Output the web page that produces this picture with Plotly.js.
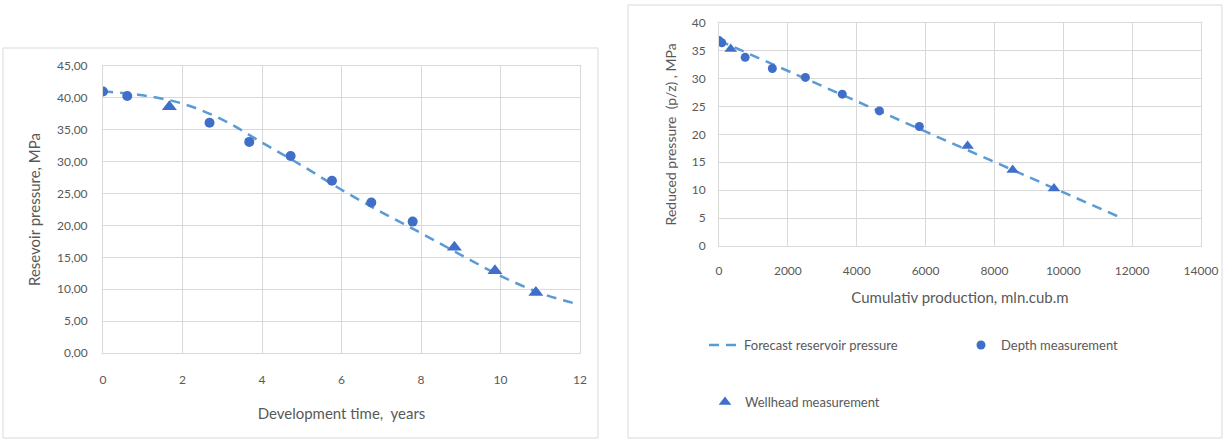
<!DOCTYPE html>
<html>
<head>
<meta charset="utf-8">
<script src="https://cdn.plot.ly/plotly-3.0.1.min.js"></script>
<style>html,body{margin:0;padding:0;background:#fff;}#chart{width:1224px;height:441px;}</style>
</head>
<body>
<div id="chart"></div>
<script>
// ---- Left chart: reservoir pressure vs development time ----
const forecastTime = [0, 1, 2, 3, 4, 5, 6, 7, 8, 9, 10, 11, 11.85];
const forecastPressure = [41.0, 40.4, 39.1, 36.6, 33.0, 29.4, 25.6, 22.1, 18.8, 15.4, 12.1, 9.4, 7.8];
const depthTime = [0, 0.61, 2.68, 3.68, 4.72, 5.76, 6.75, 7.79];
const depthPressure = [41.0, 40.3, 36.1, 33.1, 30.9, 27.0, 23.6, 20.6];
const wellTime = [1.67, 8.84, 9.86, 10.89];
const wellPressure = [38.6, 16.6, 12.9, 9.5];
const leftYTickVals = [0, 5, 10, 15, 20, 25, 30, 35, 40, 45];
const leftYTickText = ["0,00", "5,00", "10,00", "15,00", "20,00", "25,00", "30,00", "35,00", "40,00", "45,00"];
const leftXTickVals = [0, 2, 4, 6, 8, 10, 12];
const leftXTickText = ["0", "2", "4", "6", "8", "10", "12"];

// ---- Right chart: reduced pressure vs cumulative production ----
const forecastProd = [0, 11700];
const forecastReduced = [36.8, 5.0];
const depthProd = [0, 80, 760, 1550, 2510, 3580, 4660, 5820];
const depthReduced = [36.8, 36.4, 33.8, 31.8, 30.2, 27.2, 24.2, 21.4];
const wellProd = [340, 7220, 8530, 9730];
const wellReduced = [35.3, 17.9, 13.6, 10.3];
const rightYTickVals = [0, 5, 10, 15, 20, 25, 30, 35, 40];
const rightYTickText = ["0", "5", "10", "15", "20", "25", "30", "35", "40"];
const rightXTickVals = [0, 2000, 4000, 6000, 8000, 10000, 12000, 14000];
const rightXTickText = ["0", "2000", "4000", "6000", "8000", "10000", "12000", "14000"];

const legendNames = ["Forecast reservoir pressure", "Depth measurement", "Wellhead measurement"];

const W = 1224, H = 441;
const px = v => v / W;
const py = v => 1 - v / H;

const markerBlue = '#3F6FC8';
const lineBlue = '#5B9BD5';
const textGray = '#595959';
const gridGray = '#D9D9D9';
const font = 'Lato, "Open Sans", sans-serif';

const traces = [
  {x: forecastTime, y: forecastPressure, xaxis: 'x', yaxis: 'y', mode: 'lines', name: legendNames[0],
   line: {color: lineBlue, width: 2.5, dash: '10px,7px', shape: 'spline', smoothing: 1}, showlegend: false},
  {x: depthTime, y: depthPressure, xaxis: 'x', yaxis: 'y', mode: 'markers', name: legendNames[1],
   marker: {color: markerBlue, size: 10, symbol: 'circle'}, showlegend: false},
  {x: wellTime, y: wellPressure, xaxis: 'x', yaxis: 'y', mode: 'markers', name: legendNames[2],
   marker: {color: markerBlue, size: 13, symbol: 'triangle-up'}, showlegend: false},
  {x: forecastProd, y: forecastReduced, xaxis: 'x2', yaxis: 'y2', mode: 'lines', name: legendNames[0],
   line: {color: lineBlue, width: 2.5, dash: '10px,7px'}, legend: 'legend'},
  {x: depthProd, y: depthReduced, xaxis: 'x2', yaxis: 'y2', mode: 'markers', name: legendNames[1],
   marker: {color: markerBlue, size: 9, symbol: 'circle'}, legend: 'legend2'},
  {x: wellProd, y: wellReduced, xaxis: 'x2', yaxis: 'y2', mode: 'markers', name: legendNames[2],
   marker: {color: markerBlue, size: 11, symbol: 'triangle-up'}, legend: 'legend3'}
];

const axisCommon = {
  showgrid: true, gridcolor: gridGray, gridwidth: 1, zeroline: false,
  showline: true, linecolor: gridGray, mirror: true,
  ticks: 'outside', tickcolor: 'rgba(0,0,0,0)',
  tickfont: {family: font, size: 12, color: textGray},
  tickmode: 'array', fixedrange: true
};

const legendCommon = {
  orientation: 'h', bgcolor: 'rgba(0,0,0,0)', borderwidth: 0,
  font: {family: font, size: 13, color: textGray},
  xanchor: 'left', yanchor: 'middle'
};

const layout = {
  width: W, height: H,
  margin: {l: 0, r: 0, t: 0, b: 0},
  paper_bgcolor: '#ffffff', plot_bgcolor: '#ffffff',
  font: {family: font, color: textGray},
  xaxis: Object.assign({}, axisCommon, {
    domain: [px(103), px(580)], range: [0, 12], anchor: 'y',
    tickvals: leftXTickVals, ticktext: leftXTickText, ticklen: 16,
    title: {text: 'Development time,  years', font: {family: font, size: 15, color: textGray}, standoff: 22}
  }),
  yaxis: Object.assign({}, axisCommon, {
    domain: [1 - 353 / H, 1 - 66 / H], range: [0, 45], anchor: 'x',
    tickvals: leftYTickVals, ticktext: leftYTickText, ticklen: 12,
    title: {text: 'Resevoir pressure, MPa', font: {family: font, size: 15, color: textGray}, standoff: 12}
  }),
  xaxis2: Object.assign({}, axisCommon, {
    domain: [px(719), px(1201)], range: [0, 14000], anchor: 'y2',
    tickvals: rightXTickVals, ticktext: rightXTickText, ticklen: 14,
    title: {text: 'Cumulativ production, mln.cub.m', font: {family: font, size: 15, color: textGray}, standoff: 15}
  }),
  yaxis2: Object.assign({}, axisCommon, {
    domain: [1 - 246 / H, 1 - 22.7 / H], range: [0, 40], anchor: 'x2',
    tickvals: rightYTickVals, ticktext: rightYTickText, ticklen: 10,
    title: {text: 'Reduced pressure  (p/z) , MPa', font: {family: font, size: 14, color: textGray}, standoff: 11}
  }),
  legend: Object.assign({}, legendCommon, {x: px(704), y: py(345)}),
  legend2: Object.assign({}, legendCommon, {x: px(961), y: py(345)}),
  legend3: Object.assign({}, legendCommon, {x: px(705), y: py(402)}),
  shapes: [
    {type: 'rect', xref: 'paper', yref: 'paper', x0: px(3), x1: px(598), y0: py(48), y1: py(438),
     line: {color: gridGray, width: 1}, fillcolor: 'rgba(0,0,0,0)', layer: 'below'},
    {type: 'rect', xref: 'paper', yref: 'paper', x0: px(628), x1: px(1222), y0: py(5), y1: py(438),
     line: {color: gridGray, width: 1}, fillcolor: 'rgba(0,0,0,0)', layer: 'below'}
  ]
};

Plotly.newPlot('chart', traces, layout, {displayModeBar: false, staticPlot: true});
</script>
</body>
</html>
